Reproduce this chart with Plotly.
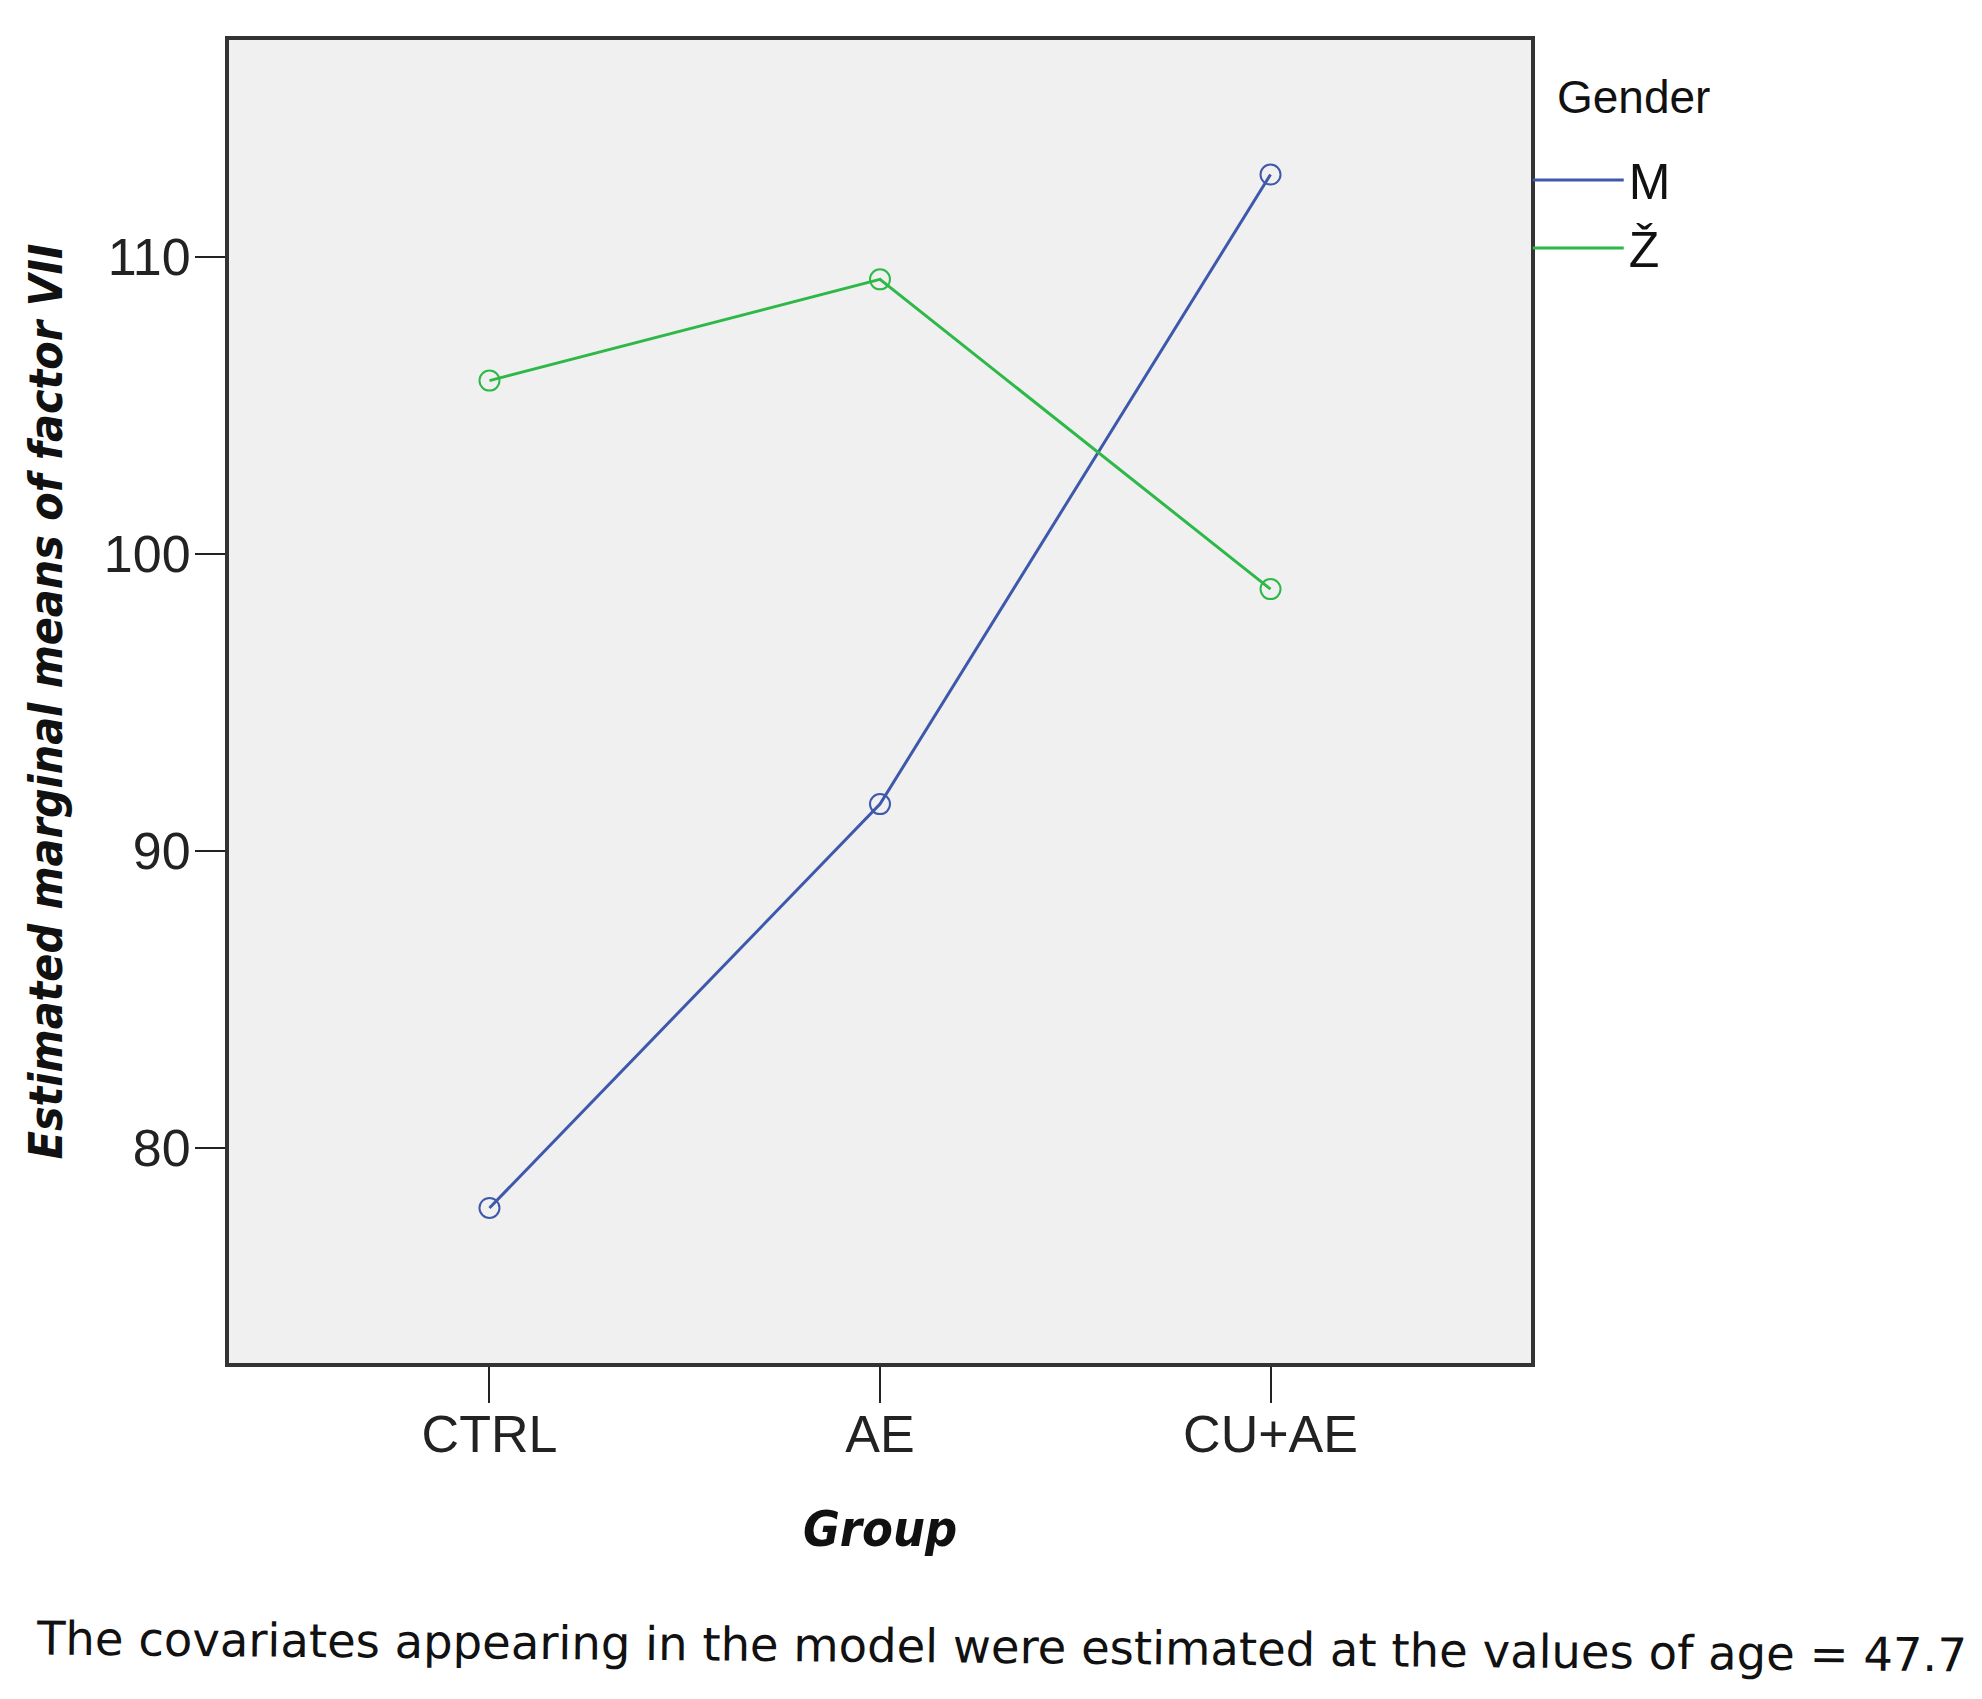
import plotly.graph_objects as go

groups = ["CTRL", "AE", "CU+AE"]
male = [77.97, 91.57, 112.77]
female = [105.83, 109.24, 98.81]
series_names = ["M", "Ž"]
colors = ["#3E58AC", "#2EB848"]
y_ticks = [80, 90, 100, 110]

light = "Liberation Sans, Arial, sans-serif"
cond_bold = "DejaVu Sans Condensed, Liberation Sans Narrow, DejaVu Sans, sans-serif"

fig = go.Figure()
for name, vals, col in zip(series_names, [male, female], colors):
    fig.add_trace(go.Scatter(x=groups, y=vals, mode="lines", name=name,
                             line=dict(color=col, width=3), legendgroup=name))
    fig.add_trace(go.Scatter(x=groups, y=vals, mode="markers", name=name, showlegend=False,
                             legendgroup=name,
                             marker=dict(symbol="circle-open", size=20, color=col,
                                         line=dict(width=2, color=col))))

fig.update_layout(
    width=1982, height=1699,
    margin=dict(l=221, r=459, t=32, b=344),
    paper_bgcolor="white", plot_bgcolor="#F0F0F0",
    font=dict(family=light, color="#111111"),
    showlegend=True,
    legend=dict(x=0.9975, xanchor="left", y=0.8685, yanchor="middle",
                font=dict(size=50, family=light),
                itemwidth=91, bgcolor="rgba(0,0,0,0)", tracegroupgap=0),
    xaxis=dict(type="category", range=[-0.667, 2.667],
               showgrid=False, zeroline=False,
               showline=True, mirror=True, linecolor="#333333", linewidth=4,
               ticks="outside", ticklen=36, tickwidth=2, tickcolor="#222222",
               ticklabelstandoff=-13,
               tickfont=dict(size=52, family=light, color="#222222"),
               title=dict(text="<b><i>Group</i></b>", font=dict(size=50, family=cond_bold), standoff=50)),
    yaxis=dict(range=[72.75, 117.3], tickvals=y_ticks,
               showgrid=False, zeroline=False,
               showline=True, mirror=True, linecolor="#333333", linewidth=4,
               ticks="outside", ticklen=30, tickwidth=2, tickcolor="#222222",
               ticklabelstandoff=-6,
               tickfont=dict(size=52, family=light, color="#222222"),
               title=dict(text="<b><i>Estimated marginal means of factor VII</i></b>",
                          font=dict(size=46, family=cond_bold), standoff=28)),
)

# legend heading
fig.add_annotation(text="Gender", xref="paper", yref="paper", x=1.0184, y=0.9569,
                   xanchor="left", yanchor="middle", showarrow=False,
                   font=dict(size=46, family=light, color="#111111"))

fig.add_annotation(text="The covariates appearing in the model were estimated at the values of age = 47.7",
                   xref="paper", yref="paper", x=-0.1498, y=-0.2147, xanchor="left", yanchor="middle",
                   showarrow=False, textangle=0.5,
                   font=dict(size=46.5, family="DejaVu Sans, sans-serif", color="#111111"))

fig.write_html("out.html")
